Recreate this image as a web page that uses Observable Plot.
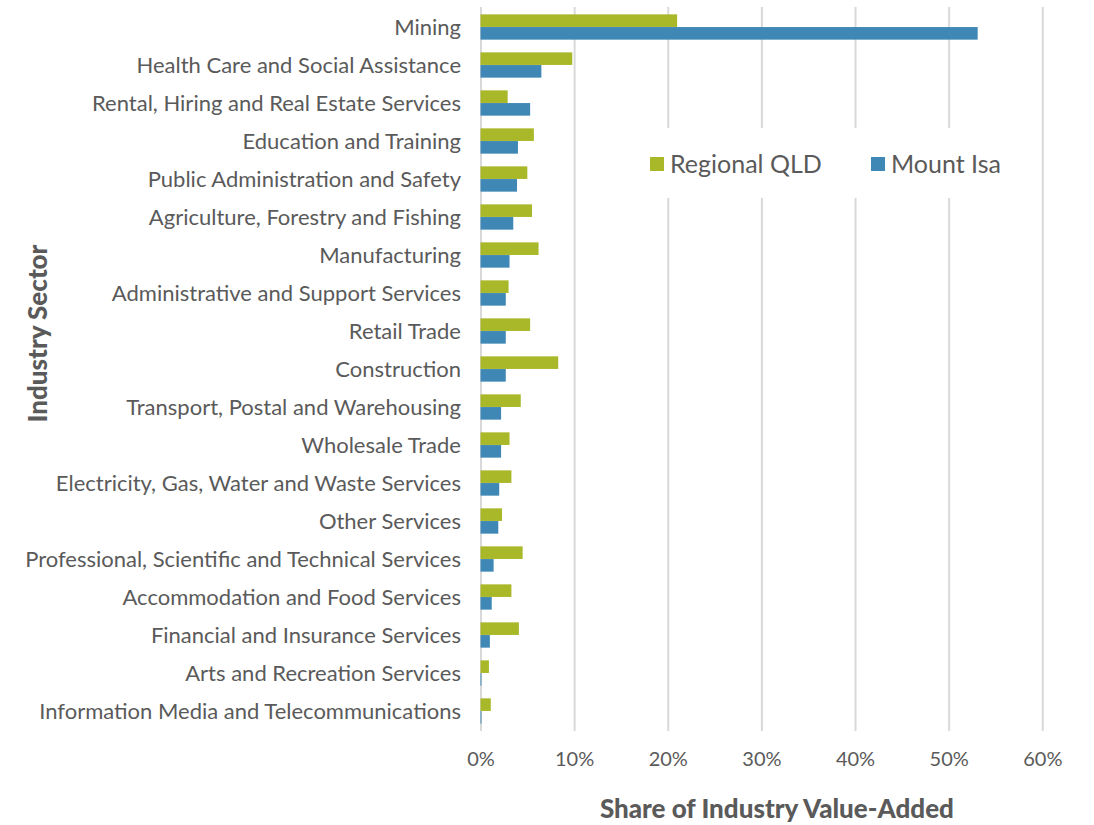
<!DOCTYPE html>
<html><head><meta charset="utf-8">
<script src="https://cdn.jsdelivr.net/npm/d3@7"></script>
<script src="https://cdn.jsdelivr.net/npm/@observablehq/plot@0.6"></script>
<style>
body{margin:0;background:#fff;font-family:Lato, "Open Sans", sans-serif;}
#wrap{position:relative;width:1094px;height:825px;}
#legend{position:absolute;left:620px;top:128px;width:400px;height:70px;background:#fff;}
.sw{position:absolute;width:14px;height:14px;top:29px;}
.lt{position:absolute;top:21px;font-size:25px;color:#5a5a5a;line-height:28px;white-space:nowrap;}
</style>
</head><body>
<div id="wrap"></div>
<script>
const sectors = [
  "Mining",
  "Health Care and Social Assistance",
  "Rental, Hiring and Real Estate Services",
  "Education and Training",
  "Public Administration and Safety",
  "Agriculture, Forestry and Fishing",
  "Manufacturing",
  "Administrative and Support Services",
  "Retail Trade",
  "Construction",
  "Transport, Postal and Warehousing",
  "Wholesale Trade",
  "Electricity, Gas, Water and Waste Services",
  "Other Services",
  "Professional, Scientific and Technical Services",
  "Accommodation and Food Services",
  "Financial and Insurance Services",
  "Arts and Recreation Services",
  "Information Media and Telecommunications"
];
const regionalQLD = [21.0, 9.8, 2.9, 5.7, 5.0, 5.5, 6.2, 3.0, 5.3, 8.3, 4.3, 3.1, 3.3, 2.3, 4.5, 3.3, 4.1, 0.9, 1.1];
const mountIsa    = [53.1, 6.5, 5.3, 4.0, 3.9, 3.5, 3.1, 2.7, 2.7, 2.7, 2.2, 2.2, 2.0, 1.9, 1.4, 1.2, 1.0, 0.1, 0.1];
const seriesNames = ["Regional QLD", "Mount Isa"];
const seriesColors = ["#a8b828", "#3f88b5"];
const xTicks = [0, 10, 20, 30, 40, 50, 60];

const data = sectors.map((s, i) => ({sector: s, regional: regionalQLD[i], isa: mountIsa[i]}));

const W = 1094, H = 825, mt = 7, mb = 94, ml = 480.5, mr = 51.7;
const step = (H - mt - mb) / sectors.length;
const barH = step / 3;

const chart = Plot.plot({
  width: W, height: H,
  marginTop: mt, marginBottom: mb, marginLeft: ml, marginRight: mr,
  style: {fontFamily: "Lato, 'Open Sans', sans-serif", fontSize: "22px", color: "#5a5a5a", background: "#fff"},
  x: {domain: [0, 60], ticks: xTicks, tickFormat: d => d + "%", tickSize: 0, tickPadding: 20, label: null},
  y: {domain: sectors, padding: 0, tickSize: 0, tickPadding: 20, label: null},
  marks: [
    Plot.ruleX(xTicks, {stroke: "#d9d9d9", strokeWidth: 2}),
    Plot.barX(data, {x: "regional", y: "sector", fill: seriesColors[0], insetTop: step/2 - barH, insetBottom: step/2}),
    Plot.barX(data, {x: "isa", y: "sector", fill: seriesColors[1], insetTop: step/2, insetBottom: step/2 - barH}),
    Plot.text(["Share of Industry Value-Added"], {frameAnchor: "bottom", dx: 15, dy: 86, fontWeight: 900, fontSize: 26, fill: "#5a5a5a"}),
    Plot.text(["Industry Sector"], {frameAnchor: "left", textAnchor: "middle", rotate: -90, dx: 38 - ml, dy: -36, fontWeight: 900, fontSize: 26, fill: "#5a5a5a"})
  ]
});
chart.querySelectorAll("g[aria-label='x-axis tick label'] text, g[aria-label='x-axis'] text").forEach(t => t.setAttribute("font-size", "20"));
const wrap = document.getElementById("wrap");
wrap.appendChild(chart);

const legend = document.createElement("div");
legend.id = "legend";
const pos = [[30, 50], [251, 271]];
seriesNames.forEach((n, i) => {
  const sw = document.createElement("div");
  sw.className = "sw"; sw.style.left = pos[i][0] + "px"; sw.style.background = seriesColors[i];
  const t = document.createElement("div");
  t.className = "lt"; t.style.left = pos[i][1] + "px"; t.textContent = n;
  legend.appendChild(sw); legend.appendChild(t);
});
wrap.appendChild(legend);
</script>
</body></html>
